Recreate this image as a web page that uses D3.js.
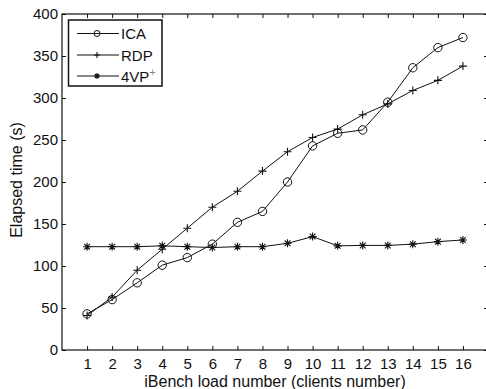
<!DOCTYPE html>
<html><head><meta charset="utf-8">
<script src="https://cdn.jsdelivr.net/npm/d3@7"></script>
<style>body{margin:0;background:#fff}svg{display:block}text{font-family:"Liberation Sans",Arial,Helvetica,sans-serif;fill:#111}</style>
</head><body><svg id="c" width="486" height="389"></svg>
<script>
const loads = [1,2,3,4,5,6,7,8,9,10,11,12,13,14,15,16];
const ica = [43,60,80,101,110,126,152,165,200,243,258,262,295,336,360,372];
const rdp = [41,63,95,120,145,170,189,213,236,253,263,280,293,309,321,338];
const vp4 = [123,123,123,124,123,122,123,123,127,135,124,124.5,124.5,126,129,131];
const yTicks = [0,50,100,150,200,250,300,350,400];
const seriesNames = ["ICA","RDP","4VP"];
const xLabel = "iBench load number (clients number)";
const yLabel = "Elapsed time (s)";

const svg = d3.select("#c");
const L = 62, R = 488, T = 14, B = 350;
const x = d3.scaleLinear().domain([0,17]).range([L,R]);
const y = d3.scaleLinear().domain([0,400]).range([B,T]);

svg.append("rect").attr("x",L).attr("y",T).attr("width",R-L).attr("height",B-T)
  .attr("fill","none").attr("stroke","#111").attr("stroke-width",1.2);

const fs = 15;
const ax = svg.append("g").attr("transform",`translate(0,${B})`)
  .call(d3.axisBottom(x).tickValues(loads).tickSizeInner(-4).tickSizeOuter(0).tickPadding(8));
const ay = svg.append("g").attr("transform",`translate(${L},0)`)
  .call(d3.axisLeft(y).tickValues(yTicks).tickSizeInner(-4).tickSizeOuter(0).tickPadding(4));
const at = svg.append("g").attr("transform",`translate(0,${T})`)
  .call(d3.axisTop(x).tickValues(loads).tickSizeInner(-4).tickSizeOuter(0).tickFormat(""));
const ar = svg.append("g").attr("transform",`translate(${R},0)`)
  .call(d3.axisRight(y).tickValues(yTicks).tickSizeInner(-4).tickSizeOuter(0).tickFormat(""));
[ax,ay,at,ar].forEach(g=>{
  g.select(".domain").remove();
  g.selectAll("line").attr("stroke","#111");
  g.selectAll("text").attr("font-size",fs).attr("font-family",'"Liberation Sans",Arial,sans-serif').attr("fill","#111");
});

svg.append("text").attr("x",275).attr("y",387).attr("text-anchor","middle")
  .attr("font-size",16).text(xLabel);
svg.append("text").attr("transform",`translate(22,${(T+B)/2-2}) rotate(-90)`).attr("text-anchor","middle")
  .attr("font-size",16).text(yLabel);

const line = d3.line().x((d,i)=>x(loads[i])).y(d=>y(d));
const data = [ica,rdp,vp4];
const kinds = ["circle","plus","star"];

function marker(g, kind, cx, cy, s){
  if(kind==="circle"){
    g.append("circle").attr("cx",cx).attr("cy",cy).attr("r",s).attr("fill","none").attr("stroke","#111").attr("stroke-width",1);
  } else if(kind==="plus"){
    g.append("path").attr("d",`M${cx-s},${cy}H${cx+s}M${cx},${cy-s}V${cy+s}`).attr("stroke","#111").attr("stroke-width",1.1);
  } else {
    const d = s*0.72;
    g.append("path").attr("d",`M${cx-s},${cy}H${cx+s}M${cx},${cy-s}V${cy+s}M${cx-d},${cy-d}L${cx+d},${cy+d}M${cx-d},${cy+d}L${cx+d},${cy-d}`)
      .attr("stroke","#111").attr("stroke-width",1.1);
  }
}

data.forEach((vals,k)=>{
  svg.append("path").datum(vals).attr("d",line).attr("fill","none").attr("stroke","#111").attr("stroke-width",1);
  const g = svg.append("g");
  vals.forEach((v,i)=>marker(g,kinds[k],x(loads[i]),y(v),k===0?4.2:4));
});

const lg = svg.append("g");
lg.append("rect").attr("x",68.5).attr("y",20).attr("width",93.5).attr("height",66)
  .attr("fill","#fff").attr("stroke","#111").attr("stroke-width",1.5);
const rows = [33.5,55,76];
seriesNames.forEach((n,k)=>{
  lg.append("line").attr("x1",77).attr("x2",119).attr("y1",rows[k]).attr("y2",rows[k]).attr("stroke","#111").attr("stroke-width",1);
  marker(lg,kinds[k],97,rows[k],3);
  const t = lg.append("text").attr("x",121).attr("y",rows[k]+5.5).attr("font-size",15).text(n);
  if(k===2) t.append("tspan").attr("dy",-6).attr("font-size",11).attr("fill","#888").text("+");
});
</script></body></html>
